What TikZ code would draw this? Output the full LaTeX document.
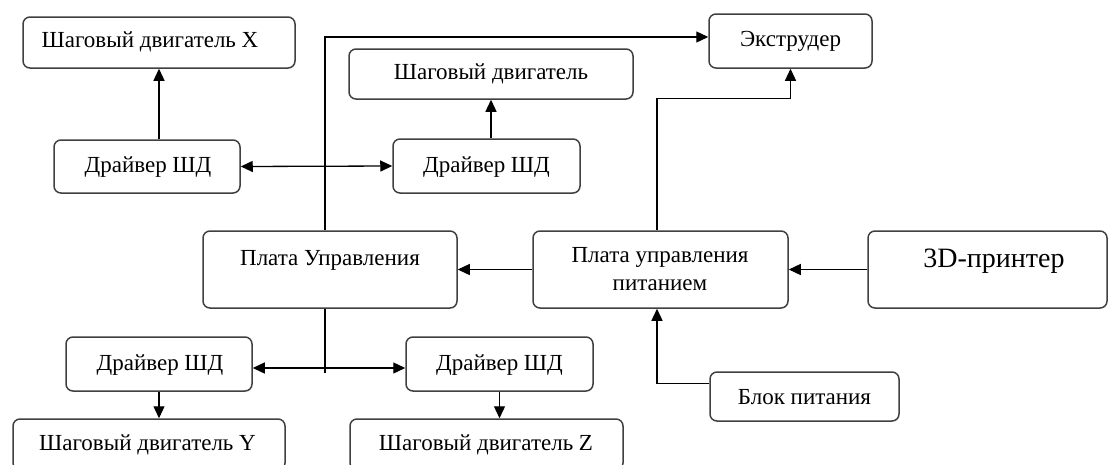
\documentclass[tikz,border=0pt]{standalone}
\usepackage{fontspec}
\setmainfont{Liberation Serif}
\usetikzlibrary{arrows.meta}
\tikzset{
  box/.style={draw=black!75, line width=1.5pt, rounded corners=7pt, fill=white, inner sep=0pt},
  txt/.style={font=\fontsize{23}{28}\selectfont, inner sep=0pt},
  big/.style={font=\fontsize{28}{32}\selectfont, inner sep=0pt},
  conn/.style={line width=1.3pt, black},
  arr/.style={conn, -{Triangle[length=12pt,width=11pt]}},
  darr/.style={conn, {Triangle[length=12pt,width=11pt]}-{Triangle[length=12pt,width=11pt]}}
}
\begin{document}
\begin{tikzpicture}[x=1pt,y=-1pt]
\useasboundingbox (0,0) rectangle (1110,464);
\clip (0,0) rectangle (1110,464);
\fill[white] (0,0) rectangle (1110,464);
% boxes
\node[box, minimum width=272, minimum height=51] (mx) at (159,42.5) {};
\node[txt] (tmx) at (150,42) {Шаговый двигатель X};
\node[box, minimum width=186, minimum height=53] (d1) at (147,166.5) {};
\node[txt] (td1) at (148,167) {Драйвер ШД};
\node[box, minimum width=284, minimum height=50] (m2) at (491,74) {};
\node[txt] (tm2) at (491,74) {Шаговый двигатель};
\node[box, minimum width=187, minimum height=54] (d2) at (486.5,166) {};
\node[txt] (td2) at (486.5,167) {Драйвер ШД};
\node[box, minimum width=163, minimum height=54] (ex) at (790.5,41) {};
\node[txt] (tex) at (790.5,41) {Экструдер};
\node[box, minimum width=254, minimum height=77] (pu) at (330,269.5) {};
\node[txt] (tpu) at (330,260) {Плата Управления};
\node[box, minimum width=255, minimum height=77] (pp) at (660.5,269.5) {};
\node[txt, align=center] (tpp) at (660,269) {Плата управления\\питанием};
\node[box, minimum width=239, minimum height=77] (pr) at (987.5,269.5) {};
\node[big] (tpr) at (994,261) {3D-принтер};
\node[box, minimum width=186, minimum height=54] (d3) at (159,364) {};
\node[txt] (td3) at (160,365) {Драйвер ШД};
\node[box, minimum width=187, minimum height=54] (d4) at (499.5,364) {};
\node[txt] (td4) at (499.5,365) {Драйвер ШД};
\node[box, minimum width=272, minimum height=51] (my) at (149,444.5) {};
\node[txt] (tmy) at (147.5,445) {Шаговый двигатель Y};
\node[box, minimum width=273, minimum height=51] (mz) at (486.5,444.5) {};
\node[txt] (tmz) at (486,445) {Шаговый двигатель Z};
\node[box, minimum width=189, minimum height=49] (bp) at (804.5,396.5) {};
\node[txt] (tbp) at (804.5,397) {Блок питания};
% connectors
\draw[arr] (mx.south |- d1.north) -- (mx.south);
\draw[darr] (d1.east) -- (d2.west);
\draw[arr] (m2.south |- d2.north) -- (m2.south);
\draw[arr] ([xshift=-5pt]pu.north) |- ([yshift=4pt]ex.west);
\draw[arr] ([xshift=-3.5pt]pp.north) |- ([yshift=-30pt]ex.south) -- (ex.south);
\draw[arr] (pp.west) -- (pu.east);
\draw[arr] (pr.west) -- (pp.east);
\draw[arr] ([yshift=13pt]bp.west) -| ([xshift=-3.5pt]pp.south);
\draw[conn] ([xshift=-5pt]pu.south) -- ++(0,64);
\draw[darr] ([yshift=-4pt]d3.east) -- ([yshift=-4pt]d4.west);
\draw[arr] (d3.south) -- (d3.south |- my.north);
\draw[arr] (d4.south) -- (d4.south |- mz.north);
\end{tikzpicture}
\end{document}
